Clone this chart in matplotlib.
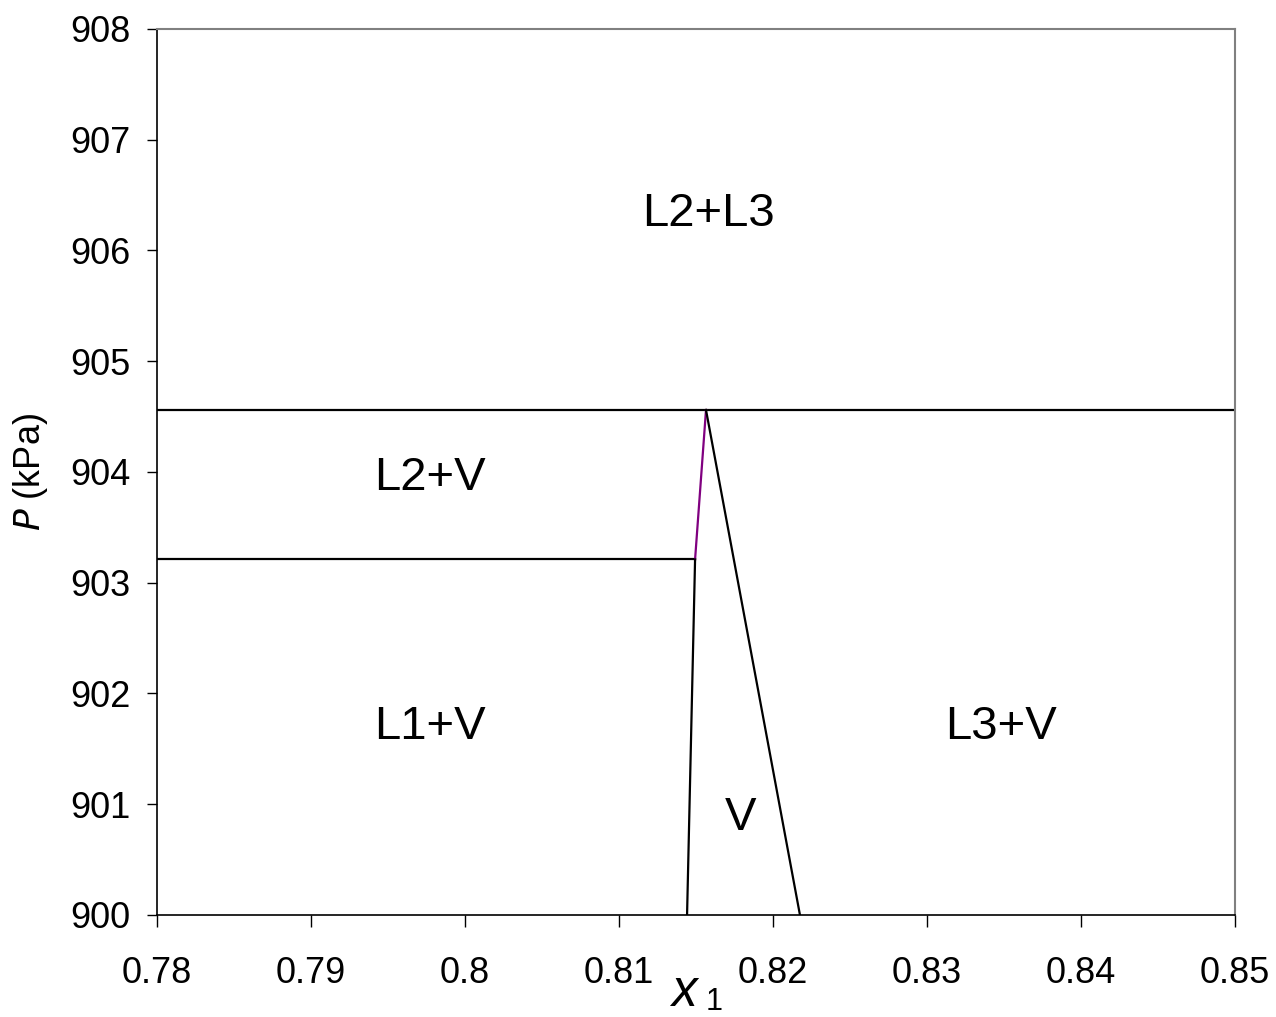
import matplotlib
matplotlib.use("Agg")
import matplotlib.pyplot as plt

plt.rcParams['font.family'] = ['Liberation Sans', 'DejaVu Sans']

# phase boundary data
p_upper = 904.56          # L2+L3 / three-phase line
p_lower = 903.21          # L1+L2+V line
x_left_top = 0.81494      # end of lower horizontal line
x_apex = 0.81565          # apex of V region
x_left_bottom = 0.81442
x_right_bottom = 0.82175

labels = ['L2+L3', 'L2+V', 'L1+V', 'L3+V', 'V']
label_x = [0.81578, 0.79773, 0.79773, 0.83481, 0.81792]
label_p = [906.33, 903.95, 901.70, 901.70, 900.88]

xticks = [0.78, 0.79, 0.8, 0.81, 0.82, 0.83, 0.84, 0.85]
xticklabels = ['0.78', '0.79', '0.8', '0.81', '0.82', '0.83', '0.84', '0.85']
yticks = [900, 901, 902, 903, 904, 905, 906, 907, 908]

fig = plt.figure(figsize=(12.76, 10.17), dpi=100)
ax = fig.add_axes([0.1230, 0.1003, 0.9679 - 0.1230, 0.9715 - 0.1003])

lw = 1.6
ax.plot([0.78, 0.85], [p_upper, p_upper], color='black', lw=lw)
ax.plot([0.78, x_left_top], [p_lower, p_lower], color='black', lw=lw)
ax.plot([x_left_top, x_apex], [p_lower, p_upper], color='#800080', lw=lw)
ax.plot([x_left_bottom, x_left_top], [900, p_lower], color='black', lw=lw)
ax.plot([x_apex, x_right_bottom], [p_upper, 900], color='black', lw=lw)

for lab, lx, lp in zip(labels, label_x, label_p):
    ax.text(lx, lp, lab, fontsize=34, ha='center', va='center')

ax.set_xlim(0.78, 0.85)
ax.set_ylim(900, 908)
ax.set_xticks(xticks)
ax.set_xticklabels(xticklabels)
ax.set_yticks(yticks)
ax.tick_params(labelsize=26, direction='out', width=1)
ax.tick_params(axis='x', length=8.5, pad=21)
ax.tick_params(axis='y', length=7, pad=12)

for side in ['top', 'right']:
    ax.spines[side].set_color('#808080')
    ax.spines[side].set_linewidth(1.5)
for side in ['left', 'bottom']:
    ax.spines[side].set_color('black')
    ax.spines[side].set_linewidth(1.2)

ax.set_ylabel(r'$\it{P}$ (kPa)', fontsize=26)
ax.yaxis.set_label_coords(-0.0993, 0.5)
ax.set_xlabel('')
fig.text(0.5357, 1 - 1006 / 1017, 'x', fontsize=37, style='italic', ha='center', va='baseline')
fig.text(0.5533, 1 - 1010 / 1017, '1', fontsize=22, ha='left', va='baseline')

fig.savefig('out.png', dpi=100)
